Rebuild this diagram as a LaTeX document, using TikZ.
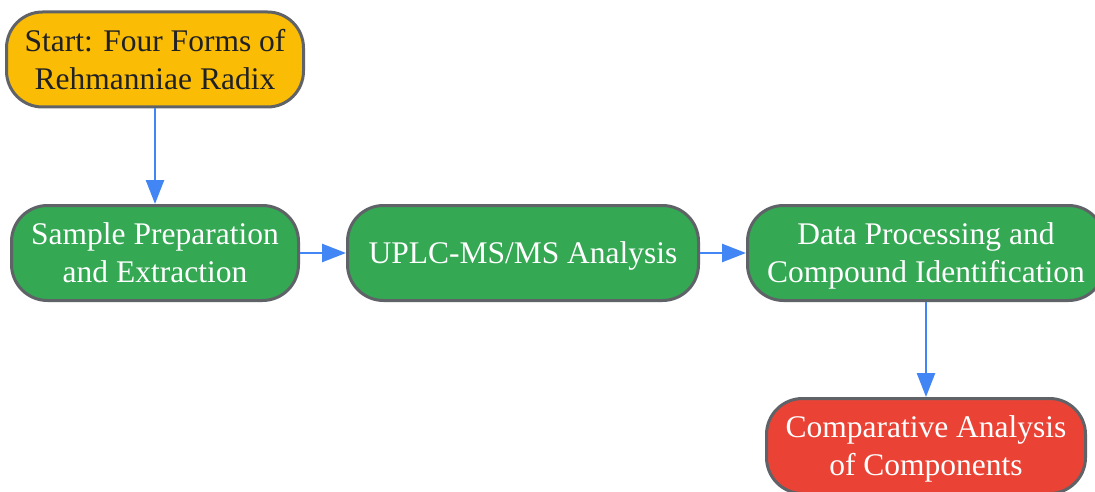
\documentclass[tikz,border=0pt]{standalone}
\usepackage{fontspec}
\setmainfont{Liberation Serif}
\usepackage{xcolor}
\usetikzlibrary{arrows.meta}

\definecolor{startyellow}{HTML}{FBBC05}
\definecolor{stepgreen}{HTML}{34A853}
\definecolor{endred}{HTML}{EA4335}
\definecolor{flowblue}{HTML}{4285F4}
\definecolor{bordergray}{HTML}{5F6368}
\definecolor{textdark}{HTML}{202124}

\begin{document}
\begin{tikzpicture}[x=1pt, y=-1pt,
    box/.style={draw=bordergray, line width=3pt, rounded corners=36pt,
      fill=stepgreen, text=white, minimum height=95pt, inner sep=0pt,
      align=center, font=\fontsize{31.5}{38}\selectfont,
      text height=67.6pt, text depth=8.4pt},
    flow/.style={draw=flowblue, line width=2.5pt,
      -{Triangle[length=24pt, width=18pt]}}]
      \useasboundingbox (0, 0) rectangle (1095, 492);
      % start and processing steps
      \node[box, fill=startyellow, text=textdark, minimum width=297pt] (start) at (155, 59.5)  {Start: Four Forms of\\Rehmanniae Radix};
      \node[box, minimum width=287pt] (prep) at (155, 253) {Sample Preparation\\and Extraction};
      \node[box, minimum width=351pt, text height=29.6pt] (uplc) at (523, 253) {UPLC-MS/MS Analysis};
      \node[box, minimum width=357pt] (data) at (926, 253) {Data Processing and\\Compound Identification};
      % final step
      \node[box, fill=endred, minimum width=319pt] (comp) at (926, 446) {Comparative Analysis\\of Components};
      \draw[flow] (start) -- (prep);
      \draw[flow] (prep) -- (uplc);
      \draw[flow] (uplc) -- (data);
      \draw[flow] (data) -- (comp);
    \end{tikzpicture}
\end{document}
